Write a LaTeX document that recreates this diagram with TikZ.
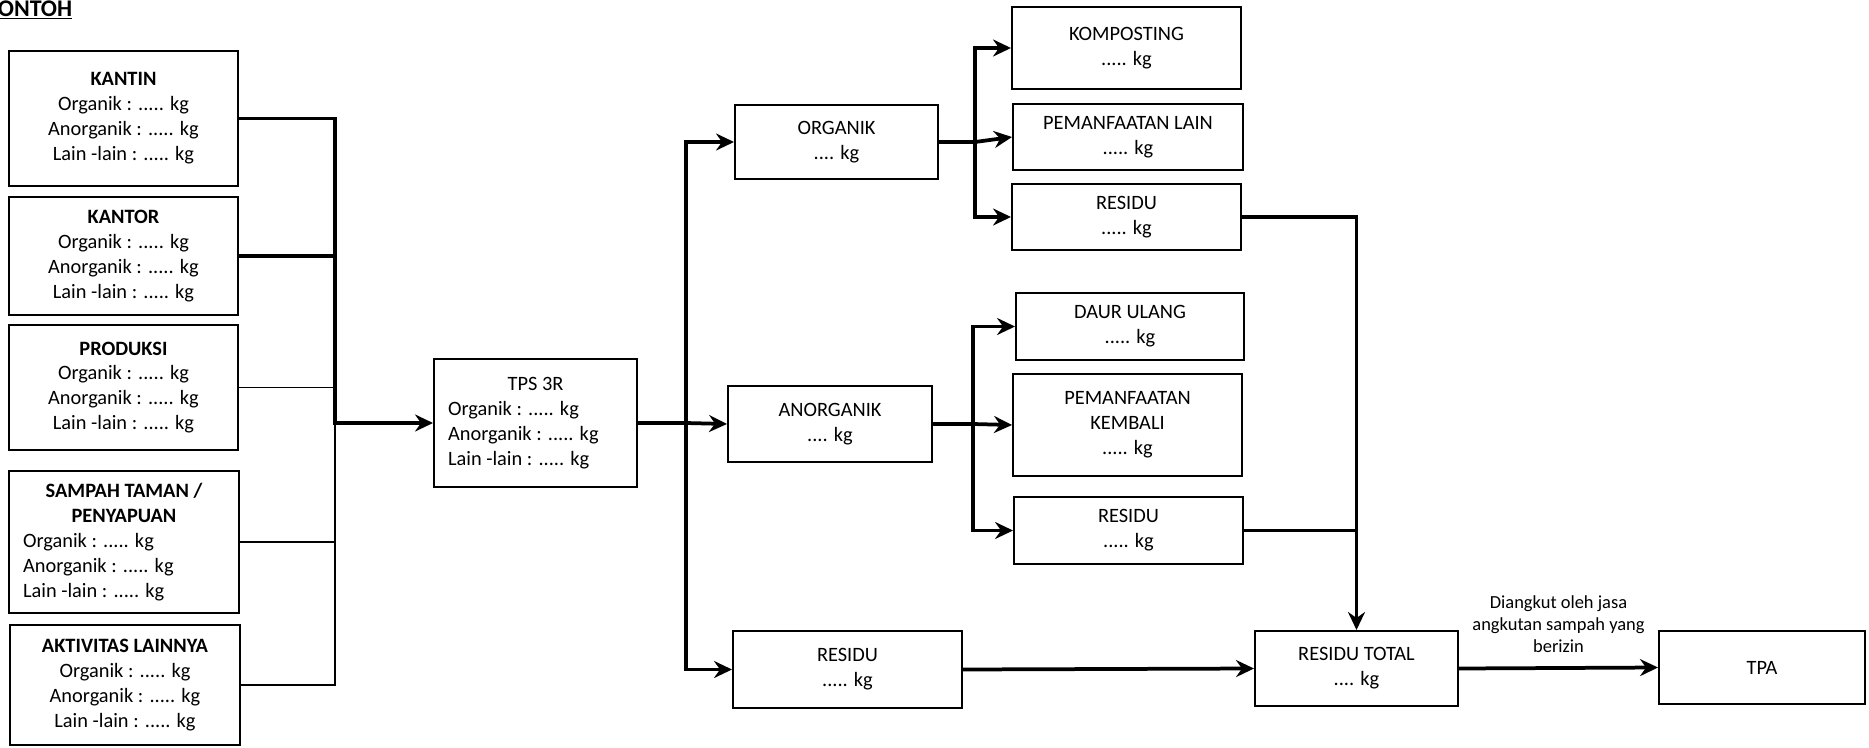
\documentclass[tikz,border=0pt]{standalone}
\usepackage{fontspec}
\setmainfont{Carlito}
\usetikzlibrary{arrows.meta, positioning}

\begin{document}
\begin{tikzpicture}[x=0.02cm,y=-0.02cm,->,>={Stealth[length=3.6mm,width=3.4mm,inset=1.2mm]},line width=0.75mm,
		font=\fontsize{11.6}{14.2}\selectfont]

		\tikzset{box/.style={draw, -, line width=0.4mm, inner sep=0pt, align=center}}
		\tikzset{src box/.style={box, minimum width=4.58cm}}
		\tikzset{out box/.style={box, minimum width=4.58cm}}
		\tikzset{thin line/.style={-, line width=0.35mm}}
		\tikzset{note/.style={font=\fontsize{10.5}{12.3}\selectfont, align=center, inner sep=0pt}}

	\useasboundingbox (0,0) rectangle (1869,747);

	\node[anchor=base west, inner sep=0pt, font=\fontsize{13.6}{16}\selectfont\bfseries] (title) at (-4,16) {\underline{ONTOH}};

	% sumber sampah
	\node[src box, minimum height=2.70cm] (kantin) at (123.5,118.5)
		{\textbf{KANTIN}\\Organik : ..... kg\\Anorganik : ..... kg\\Lain -lain : ..... kg};
	\node[src box, minimum height=2.36cm] (kantor) at (123.5,256)
		{\textbf{KANTOR}\\Organik : ..... kg\\Anorganik : ..... kg\\Lain -lain : ..... kg};
	\node[src box, minimum height=2.50cm] (produksi) at (123.5,387.5)
		{\textbf{PRODUKSI}\\Organik : ..... kg\\Anorganik : ..... kg\\Lain -lain : ..... kg};
	\node[src box, minimum width=4.60cm, minimum height=2.84cm, align=left] (taman) at (124,542)
		{\makebox[4.04cm]{\bfseries SAMPAH TAMAN /}\\\makebox[4.04cm]{\bfseries PENYAPUAN}\\Organik : ..... kg\\Anorganik : ..... kg\\Lain -lain : ..... kg};
	\node[src box, minimum width=4.60cm, minimum height=2.40cm] (aktivitas) at (125,685)
		{\textbf{AKTIVITAS LAINNYA}\\Organik : ..... kg\\Anorganik : ..... kg\\Lain -lain : ..... kg};

	\node[box, minimum width=4.06cm, minimum height=2.56cm, align=left] (tps) at (535.5,423)
		{\makebox[3.5cm]{TPS 3R}\\Organik : ..... kg\\Anorganik : ..... kg\\Lain -lain : ..... kg};

	% pemilahan
	\node[box, minimum width=4.06cm, minimum height=1.48cm] (organik) at (836.5,142) {ORGANIK\\.... kg};
	\node[box, minimum width=4.08cm, minimum height=1.54cm] (anorganik) at (830,424) {ANORGANIK\\.... kg};
	\node[out box, minimum height=1.54cm] (residu) at (847.5,669.5) {RESIDU\\..... kg};

	\node[out box, minimum height=1.64cm] (kompos) at (1126.5,48) {KOMPOSTING\\..... kg};
	\node[out box, minimum width=4.60cm, minimum height=1.32cm] (manfaatlain) at (1128,137) {PEMANFAATAN LAIN\\..... kg};
	\node[out box, minimum height=1.32cm] (residuorg) at (1126.5,217) {RESIDU\\..... kg};

	\node[out box, minimum width=4.56cm, minimum height=1.34cm] (daurulang) at (1130,326.5) {DAUR ULANG\\..... kg};
	\node[out box, minimum height=2.04cm] (manfaatkembali) at (1127.5,425) {PEMANFAATAN\\KEMBALI\\..... kg};
	\node[out box, minimum height=1.34cm] (residuanorg) at (1128.5,530.5) {RESIDU\\..... kg};

	\node[box, minimum width=4.06cm, minimum height=1.50cm] (rtotal) at (1356.5,668.5) {RESIDU TOTAL\\.... kg};
	\node[box, minimum width=4.12cm, minimum height=1.46cm] (tpa) at (1762,667.5) {TPA};

	\coordinate (bus) at (335,423);
	\coordinate (split) at (686,423);
	\coordinate (osplit) at (975,142);
	\coordinate (asplit) at (973,424);

	% ke TPS 3R
	\draw (kantin.east) -| (bus) -- (tps.west);
	\draw[-] (kantor.east) -- (kantor.east -| bus);
	\draw[thin line] (produksi.east) -- (produksi.east -| bus);
	\draw[thin line] (taman.east) -- (taman.east -| bus);
	\draw[thin line] (aktivitas.east) -| (bus);

	% dari TPS 3R
	\draw[-] (tps.east) -- (split);
	\draw (split) |- (organik.west);
	\draw (split) -- (anorganik.west);
	\draw (split) |- (residu.west);

	\draw[-] (organik.east) -- (osplit);
	\draw (osplit) |- (kompos.west);
	\draw (osplit) -- (manfaatlain.west);
	\draw (osplit) |- (residuorg.west);

	\draw[-] (anorganik.east) -- (asplit);
	\draw (asplit) |- (daurulang.west);
	\draw (asplit) -- (manfaatkembali.west);
	\draw (asplit) |- (residuanorg.west);

	% residu
	\draw (residuorg.east) -| (rtotal.north);
	\draw[-] (residuanorg.east) -- (residuanorg.east -| rtotal.north);
	\draw (residu.east) -- (rtotal.west);
	\draw (rtotal.east) -- node[note, above=0.28cm] (angkut) {Diangkut oleh jasa\\angkutan sampah yang\\berizin} (tpa.west);
	\end{tikzpicture}
\end{document}
